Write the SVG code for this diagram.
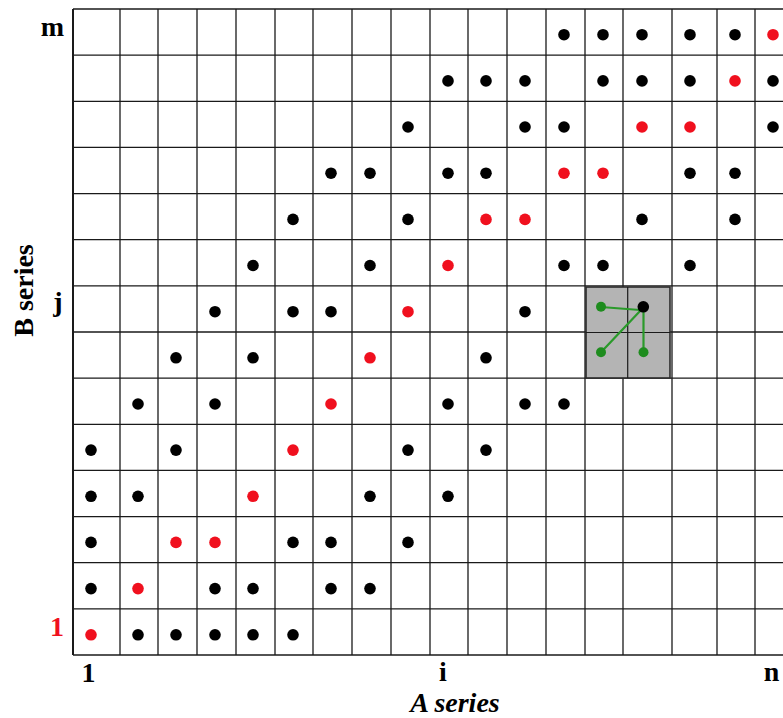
<svg xmlns="http://www.w3.org/2000/svg" width="783" height="718" viewBox="0 0 783 718">
<style>
.g{stroke:#1a1a1a;stroke-width:1.3;fill:none}
.b{fill:#000}
.r{fill:#f0101e}
.gr{fill:#1e8c1e}
.lbl{font-family:"Liberation Serif","Times New Roman",serif;font-weight:bold;font-size:28px;text-anchor:middle}
.conn{stroke:#2a9a2a;stroke-width:2.2;stroke-linecap:round}
</style>
<rect width="783" height="718" fill="#fff"/>
<g id="grid" class="g">
<line x1="73" y1="9" x2="783" y2="9"/>
<line x1="73" y1="55.1" x2="783" y2="55.1"/>
<line x1="73" y1="101.3" x2="783" y2="101.3"/>
<line x1="73" y1="147.4" x2="783" y2="147.4"/>
<line x1="73" y1="193.6" x2="783" y2="193.6"/>
<line x1="73" y1="239.7" x2="783" y2="239.7"/>
<line x1="73" y1="285.9" x2="783" y2="285.9"/>
<line x1="73" y1="332" x2="783" y2="332"/>
<line x1="73" y1="378.1" x2="783" y2="378.1"/>
<line x1="73" y1="424.3" x2="783" y2="424.3"/>
<line x1="73" y1="470.4" x2="783" y2="470.4"/>
<line x1="73" y1="516.6" x2="783" y2="516.6"/>
<line x1="73" y1="562.7" x2="783" y2="562.7"/>
<line x1="73" y1="608.9" x2="783" y2="608.9"/>
<line x1="73" y1="655" x2="783" y2="655"/>
<line x1="73" y1="9" x2="73" y2="655" stroke-width="2"/>
<line x1="120" y1="9" x2="120" y2="655"/>
<line x1="158" y1="9" x2="158" y2="655"/>
<line x1="197" y1="9" x2="197" y2="655"/>
<line x1="236" y1="9" x2="236" y2="655"/>
<line x1="275" y1="9" x2="275" y2="655"/>
<line x1="313" y1="9" x2="313" y2="655"/>
<line x1="352" y1="9" x2="352" y2="655"/>
<line x1="391" y1="9" x2="391" y2="655"/>
<line x1="430" y1="9" x2="430" y2="655"/>
<line x1="468" y1="9" x2="468" y2="655"/>
<line x1="507" y1="9" x2="507" y2="655"/>
<line x1="546" y1="9" x2="546" y2="655"/>
<line x1="585" y1="9" x2="585" y2="655"/>
<line x1="623" y1="9" x2="623" y2="655"/>
<line x1="672" y1="9" x2="672" y2="655"/>
<line x1="717" y1="9" x2="717" y2="655"/>
<line x1="755" y1="9" x2="755" y2="655"/>
</g>
<g id="window">
<rect x="586" y="287" width="84" height="91" fill="#b4b4b4" stroke="#2a2a2a" stroke-width="1.6"/>
<line x1="627.7" y1="287" x2="627.7" y2="378" stroke="#1a1a1a" stroke-width="1.2"/>
<line x1="586" y1="332.5" x2="670" y2="332.5" stroke="#1a1a1a" stroke-width="1.2"/>
</g>
<g id="dots">
<g id="row14">
<circle class="b" cx="564" cy="34.7" r="5.8"/><circle class="b" cx="603" cy="34.7" r="5.8"/><circle class="b" cx="642" cy="34.7" r="5.8"/><circle class="b" cx="690" cy="34.7" r="5.8"/><circle class="b" cx="735" cy="34.7" r="5.8"/><circle class="r" cx="773" cy="34.7" r="5.8"/>
</g>
<g id="row13">
<circle class="b" cx="448" cy="80.9" r="5.8"/><circle class="b" cx="486" cy="80.9" r="5.8"/><circle class="b" cx="525" cy="80.9" r="5.8"/><circle class="b" cx="603" cy="80.9" r="5.8"/><circle class="b" cx="642" cy="80.9" r="5.8"/><circle class="b" cx="690" cy="80.9" r="5.8"/><circle class="r" cx="735" cy="80.9" r="5.8"/><circle class="b" cx="773" cy="80.9" r="5.8"/>
</g>
<g id="row12">
<circle class="b" cx="408" cy="127" r="5.8"/><circle class="b" cx="525" cy="127" r="5.8"/><circle class="b" cx="564" cy="127" r="5.8"/><circle class="r" cx="642" cy="127" r="5.8"/><circle class="r" cx="690" cy="127" r="5.8"/><circle class="b" cx="773" cy="127" r="5.8"/>
</g>
<g id="row11">
<circle class="b" cx="331" cy="173.2" r="5.8"/><circle class="b" cx="370" cy="173.2" r="5.8"/><circle class="b" cx="448" cy="173.2" r="5.8"/><circle class="b" cx="486" cy="173.2" r="5.8"/><circle class="r" cx="564" cy="173.2" r="5.8"/><circle class="r" cx="603" cy="173.2" r="5.8"/><circle class="b" cx="690" cy="173.2" r="5.8"/><circle class="b" cx="735" cy="173.2" r="5.8"/>
</g>
<g id="row10">
<circle class="b" cx="293" cy="219.4" r="5.8"/><circle class="b" cx="408" cy="219.4" r="5.8"/><circle class="r" cx="486" cy="219.4" r="5.8"/><circle class="r" cx="525" cy="219.4" r="5.8"/><circle class="b" cx="642" cy="219.4" r="5.8"/><circle class="b" cx="735" cy="219.4" r="5.8"/>
</g>
<g id="row9">
<circle class="b" cx="253" cy="265.5" r="5.8"/><circle class="b" cx="370" cy="265.5" r="5.8"/><circle class="r" cx="448" cy="265.5" r="5.8"/><circle class="b" cx="564" cy="265.5" r="5.8"/><circle class="b" cx="603" cy="265.5" r="5.8"/><circle class="b" cx="690" cy="265.5" r="5.8"/>
</g>
<g id="row8">
<circle class="b" cx="215" cy="311.7" r="5.8"/><circle class="b" cx="293" cy="311.7" r="5.8"/><circle class="b" cx="331" cy="311.7" r="5.8"/><circle class="r" cx="408" cy="311.7" r="5.8"/><circle class="b" cx="525" cy="311.7" r="5.8"/>
</g>
<g id="row7">
<circle class="b" cx="176" cy="357.8" r="5.8"/><circle class="b" cx="253" cy="357.8" r="5.8"/><circle class="r" cx="370" cy="357.8" r="5.8"/><circle class="b" cx="486" cy="357.8" r="5.8"/>
</g>
<g id="row6">
<circle class="b" cx="138" cy="404" r="5.8"/><circle class="b" cx="215" cy="404" r="5.8"/><circle class="r" cx="331" cy="404" r="5.8"/><circle class="b" cx="448" cy="404" r="5.8"/><circle class="b" cx="525" cy="404" r="5.8"/><circle class="b" cx="564" cy="404" r="5.8"/>
</g>
<g id="row5">
<circle class="b" cx="91" cy="450.1" r="5.8"/><circle class="b" cx="176" cy="450.1" r="5.8"/><circle class="r" cx="293" cy="450.1" r="5.8"/><circle class="b" cx="408" cy="450.1" r="5.8"/><circle class="b" cx="486" cy="450.1" r="5.8"/>
</g>
<g id="row4">
<circle class="b" cx="91" cy="496.3" r="5.8"/><circle class="b" cx="138" cy="496.3" r="5.8"/><circle class="r" cx="253" cy="496.3" r="5.8"/><circle class="b" cx="370" cy="496.3" r="5.8"/><circle class="b" cx="448" cy="496.3" r="5.8"/>
</g>
<g id="row3">
<circle class="b" cx="91" cy="542.4" r="5.8"/><circle class="r" cx="176" cy="542.4" r="5.8"/><circle class="r" cx="215" cy="542.4" r="5.8"/><circle class="b" cx="293" cy="542.4" r="5.8"/><circle class="b" cx="331" cy="542.4" r="5.8"/><circle class="b" cx="408" cy="542.4" r="5.8"/>
</g>
<g id="row2">
<circle class="b" cx="91" cy="588.6" r="5.8"/><circle class="r" cx="138" cy="588.6" r="5.8"/><circle class="b" cx="215" cy="588.6" r="5.8"/><circle class="b" cx="253" cy="588.6" r="5.8"/><circle class="b" cx="331" cy="588.6" r="5.8"/><circle class="b" cx="370" cy="588.6" r="5.8"/>
</g>
<g id="row1">
<circle class="r" cx="91" cy="634.8" r="5.8"/><circle class="b" cx="138" cy="634.8" r="5.8"/><circle class="b" cx="176" cy="634.8" r="5.8"/><circle class="b" cx="215" cy="634.8" r="5.8"/><circle class="b" cx="253" cy="634.8" r="5.8"/><circle class="b" cx="293" cy="634.8" r="5.8"/>
</g>
</g>
<g id="connectors">
<line class="conn" x1="601" y1="307" x2="640" y2="310"/>
<line class="conn" x1="601" y1="352.3" x2="641" y2="310"/>
<line class="conn" x1="643.5" y1="310" x2="643.5" y2="352.3"/>
</g>
<g id="window-nodes">
<circle id="n-left" class="gr" cx="601" cy="306.8" r="5"/>
<circle id="n-diag" class="gr" cx="601" cy="352.3" r="5"/>
<circle id="n-down" class="gr" cx="643.5" cy="352.3" r="5"/>
<circle id="n-cur" class="b" cx="643.3" cy="306.8" r="5.8"/>
</g>
<g id="labels">
<text class="lbl" x="52.5" y="36">m</text>
<text class="lbl" x="58" y="311">j</text>
<text class="lbl" x="57" y="636" fill="#f0101e">1</text>
<text class="lbl" x="88.5" y="682">1</text>
<text class="lbl" x="443" y="681" font-size="26">i</text>
<text class="lbl" x="771.5" y="681" font-size="26">n</text>
<text class="lbl" x="455" y="712" font-style="italic">A series</text>
<text class="lbl" transform="translate(33,290.5) rotate(-90)">B series</text>
</g>
</svg>
